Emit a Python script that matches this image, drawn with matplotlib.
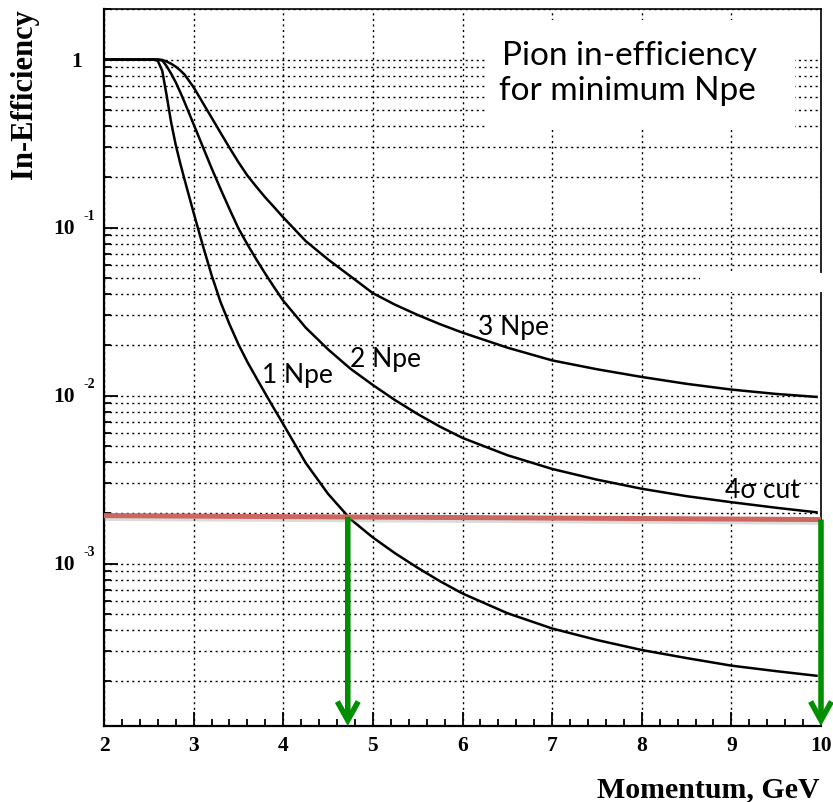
import matplotlib
matplotlib.use("Agg")
import matplotlib.pyplot as plt
import matplotlib.patheffects as pe
import matplotlib.transforms as mtransforms
from matplotlib.patches import Rectangle
from matplotlib.ticker import MultipleLocator, LogLocator, NullFormatter

# ---------------- data ----------------
momentum = [2.0, 2.55, 2.6, 2.65, 2.7, 2.75, 2.8, 2.85, 2.9, 3.0, 3.1, 3.2,
            3.3, 3.4, 3.5, 3.6, 3.7, 3.8, 3.9, 4.0, 4.25, 4.5, 4.75, 5.0,
            5.25, 5.5, 5.75, 6.0, 6.5, 7.0, 7.5, 8.0, 8.5, 9.0, 9.5, 9.95]
ineff_1npe = [1.0, 1.0, 0.984, 0.857, 0.607, 0.420, 0.311, 0.242, 0.192,
              0.1225, 0.0791, 0.0522, 0.0361, 0.0266, 0.0202, 0.01585, 0.01274,
              0.01028, 0.00832, 0.00676, 0.00398, 0.00260, 0.00184, 0.00143,
              0.00115, 0.000944, 0.000785, 0.000664, 0.000507, 0.000411,
              0.000351, 0.000306, 0.000274, 0.000247, 0.000229, 0.000215]
ineff_2npe = [1.0, 1.0, 1.0, 0.989, 0.912, 0.822, 0.733, 0.641, 0.556,
              0.412, 0.305, 0.226, 0.170, 0.129, 0.0989, 0.0794, 0.0646,
              0.0531, 0.0440, 0.0367, 0.0254, 0.01884, 0.01445, 0.01156,
              0.00938, 0.00776, 0.00653, 0.00560, 0.00442, 0.00366, 0.00316,
              0.00279, 0.00252, 0.00232, 0.00215, 0.00202]
ineff_3npe = [1.0, 1.0, 1.0, 0.995, 0.973, 0.944, 0.908, 0.863, 0.813,
              0.684, 0.556, 0.452, 0.367, 0.299, 0.245, 0.204, 0.175, 0.151,
              0.132, 0.115, 0.0832, 0.0646, 0.0513, 0.0407, 0.0347, 0.0302,
              0.0266, 0.0237, 0.0193, 0.0162, 0.01435, 0.01291, 0.01175,
              0.01086, 0.01023, 0.00982]
curve_labels = ["1 Npe", "2 Npe", "3 Npe"]

cut_momentum = [2.0, 10.0]
cut_level = [1.93e-3, 1.83e-3]
cut_label = "4\u03c3 cut"

arrow_momentum = [4.72, 10.0]
arrow_top = [1.90e-3, 1.83e-3]

xtick_values = [2, 3, 4, 5, 6, 7, 8, 9, 10]
xtick_labels = ["2", "3", "4", "5", "6", "7", "8", "9", "10"]
ytick_values = [1.0, 1e-1, 1e-2, 1e-3]
ytick_bases = ["1", "10", "10", "10"]
ytick_exponents = ["", "-1", "-2", "-3"]

title_lines = ["Pion in-efficiency", "for minimum Npe"]
x_label = "Momentum, GeV"
y_label = "In-Efficiency"

# ---------------- figure ----------------
W, H = 833, 802
fig = plt.figure(figsize=(W / 100, H / 100), dpi=100)
ax = fig.add_axes([104 / W, 1 - 726 / H, 717 / W, 717 / H])
ax.set_yscale("log")
ax.set_xlim(2, 10)
ax.set_ylim(1.08e-4, 2.0)
ax.set_axisbelow(True)

serif = "Liberation Serif"
sans = ["Lato", "DejaVu Sans"]

# grid
grid_kw = dict(color="black", linestyle=(0, (1.5, 2.5)), linewidth=1.0)
ax.grid(True, which="major", axis="x", **grid_kw)
ax.grid(True, which="both", axis="y", **grid_kw)

# ticks
ax.set_xticks(xtick_values)
ax.set_xticklabels(xtick_labels, fontfamily=serif, fontweight="bold", fontsize=15.5)
ax.xaxis.set_minor_locator(MultipleLocator(0.2))
ax.yaxis.set_major_locator(LogLocator(base=10, numticks=10))
ax.yaxis.set_minor_locator(LogLocator(base=10, subs=range(2, 10), numticks=20))
ax.yaxis.set_major_formatter(NullFormatter())
ax.yaxis.set_minor_formatter(NullFormatter())
ax.tick_params(which="both", direction="in", top=False, right=False, width=1.3, color="black")
ax.tick_params(which="major", length=10)
ax.tick_params(which="minor", length=5)
ax.tick_params(axis="x", which="major", pad=7)

for side in ["left", "bottom"]:
    ax.spines[side].set_linewidth(1.6)
for side in ["top", "right"]:
    ax.spines[side].set_linewidth(1.2)

# y tick labels (ROOT style 10^-n)
ytrans = mtransforms.blended_transform_factory(ax.transAxes, ax.transData)
for val, base, expo in zip(ytick_values, ytick_bases, ytick_exponents):
    if expo == "":
        tr = ytrans + mtransforms.ScaledTranslation(-22 / 100, -2 / 100, fig.dpi_scale_trans)
        ax.text(0, val, base, transform=tr, ha="right", va="center",
                fontfamily=serif, fontweight="bold", fontsize=15.5, clip_on=False)
    else:
        tr = ytrans + mtransforms.ScaledTranslation(-29 / 100, -1 / 100, fig.dpi_scale_trans)
        ax.text(0, val, base, transform=tr, ha="right", va="center",
                fontfamily=serif, fontweight="bold", fontsize=15.5, clip_on=False)
        tr2 = ytrans + mtransforms.ScaledTranslation(-21 / 100, 11 / 100, fig.dpi_scale_trans)
        ax.text(0, val, expo, transform=tr2, ha="left", va="center",
                fontfamily=serif, fontweight="bold", fontsize=10, clip_on=False)

# white patches covering the grid (as in the original slide)
ax.add_patch(Rectangle((485 / W, 1 - 128 / H), 310 / W, 108 / H,
                       transform=fig.transFigure, facecolor="white",
                       edgecolor="none", zorder=1, clip_on=False))
ax.add_patch(Rectangle((700 / W, 1 - 292 / H), 127 / W, 19 / H,
                       transform=fig.transFigure, facecolor="white",
                       edgecolor="none", zorder=2.8, clip_on=False))

# curves
for vals in (ineff_1npe, ineff_2npe, ineff_3npe):
    ax.plot(momentum, vals, color="black", linewidth=1.8, zorder=3,
            solid_joinstyle="round")

# cut line
ax.plot(cut_momentum, cut_level, color="#cc6661", linewidth=3.6, zorder=4,
        solid_capstyle="butt",
        path_effects=[pe.SimpleLineShadow(offset=(0, -2.0), shadow_color="#888888", alpha=0.3),
                      pe.Normal()])

# arrows
ybot = ax.get_ylim()[0]
for xm, yt in zip(arrow_momentum, arrow_top):
    ax.annotate("", xy=(xm, ybot), xytext=(xm, yt), annotation_clip=False,
                arrowprops=dict(arrowstyle="->,head_length=1.35,head_width=0.75",
                                color="#008f00", linewidth=4.0,
                                shrinkA=0, shrinkB=0, joinstyle="miter",
                                capstyle="butt"),
                zorder=5)

# text annotations
lab_kw = dict(fontfamily=sans, fontsize=19, color="black", va="baseline", ha="left", zorder=6)
ax.text(3.763, 0.01189, curve_labels[0], **lab_kw)
ax.text(4.746, 0.01479, curve_labels[1], **lab_kw)
ax.text(6.174, 0.02285, curve_labels[2], **lab_kw)
ax.text(8.931, 0.00245, cut_label, **lab_kw)

title_kw = dict(fontfamily=sans, fontsize=24, color="black", va="baseline", ha="left", zorder=6)
ax.text(6.442, 0.925, title_lines[0], **title_kw)
ax.text(6.408, 0.573, title_lines[1], **title_kw)

# axis labels
fig.text(820 / W, 1 - 797 / H, x_label, ha="right", va="baseline",
         fontfamily=serif, fontweight="bold", fontsize=21.5)
fig.text(25 / W, 1 - 9 / H, y_label, ha="center", va="top", rotation=90,
         fontfamily=serif, fontweight="bold", fontsize=22)

fig.savefig("out.png", dpi=100)
